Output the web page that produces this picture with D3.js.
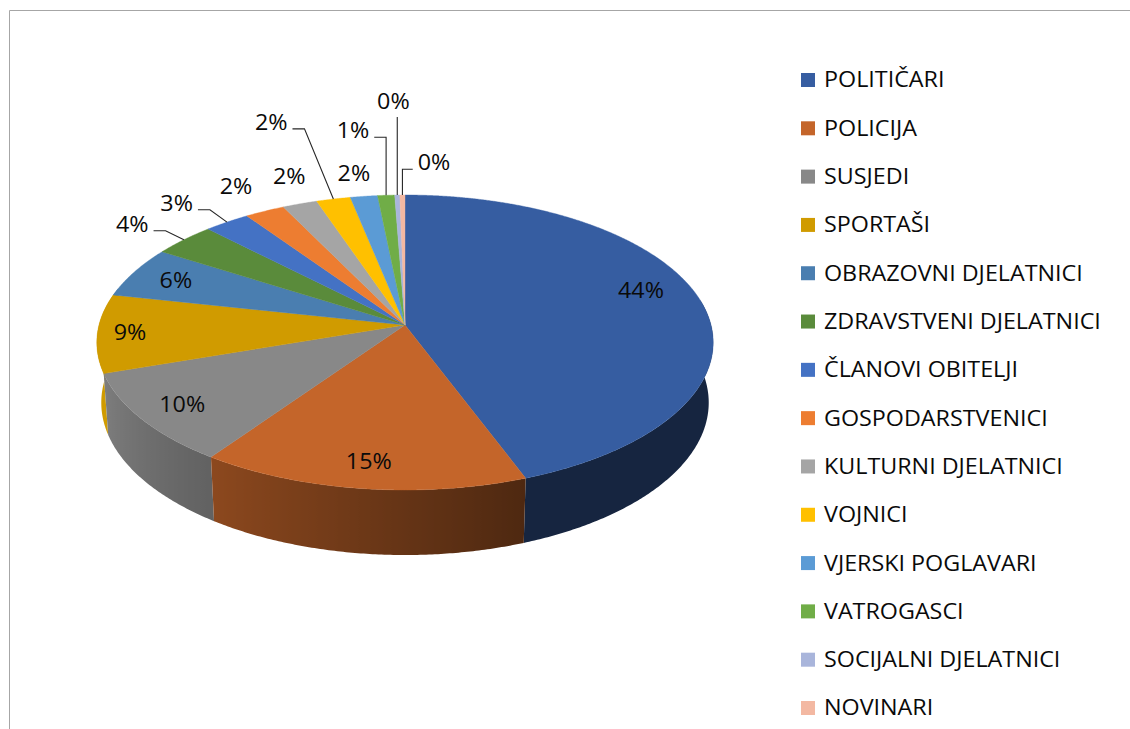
<!DOCTYPE html>
<html><head><meta charset="utf-8">
<script src="https://cdn.jsdelivr.net/npm/d3@7"></script>
<style>html,body{margin:0;padding:0;background:#fff;} svg{display:block;}</style>
</head><body>
<svg id="chart" width="1130" height="729"></svg>
<script>
// ---------- data ----------
const categories = ["POLITIČARI","POLICIJA","SUSJEDI","SPORTAŠI","OBRAZOVNI DJELATNICI","ZDRAVSTVENI DJELATNICI","ČLANOVI OBITELJI","GOSPODARSTVENICI","KULTURNI DJELATNICI","VOJNICI","VJERSKI POGLAVARI","VATROGASCI","SOCIJALNI DJELATNICI","NOVINARI"];
const values = [44.3,15.4,10.1,8.6,5.6,3.7,2.7,2.35,2.05,2.0,1.6,1.0,0.3,0.3];
const colors = ["#365DA1","#C4652A","#888888","#D09B00","#4A7EB0","#5A8B3B","#4472C4","#ED7D31","#A5A5A5","#FFC000","#5B9BD5","#70AD47","#A9B5DB","#F3B8A2"];

// ---------- layout (not data) ----------
const W = 1130, H = 729;
const P = {cx:405, cy:325, F:2270.5, D:7.42, sinT:0.4752, thick:0.2253};
P.cosT = Math.sqrt(1 - P.sinT*P.sinT);
const FONT = "'Open Sans', 'Noto Sans', sans-serif", FS = 21, STRETCH = 1.11;
// label placement: radius factor relative to rim, angular nudge (deg), leader line flag
const labelRadius = [0.83,0.85,0.855,0.895,0.84,1.23,1.245,1.245,1.24,1.75,1.2,1.6,1.88,1.29];
const labelNudge  = [-6.8,0,0,0,0,-1.2,-2.3,0.3,2.1,-2.3,-0.5,-3.3,0.2,5.4];
const labelLeader = [0,0,0,0,0,1,1,0,0,1,0,1,1,1];

const svg = d3.select("#chart");
const defs = svg.append("defs");

// chart area border
svg.append("path").attr("d", `M9.5,${H} L9.5,10.5 L${W},10.5`)
  .attr("fill","none").attr("stroke","#a6a6a6").attr("stroke-width",1);

function proj(theta, r, down){
  const u = r*Math.sin(theta), v = -r*Math.cos(theta);
  const yc = v*P.sinT + down*P.cosT;
  const z = P.D - v*P.cosT + down*P.sinT;
  return [P.cx + P.F*u/z, P.cy + P.F*yc/z];
}
const pie = d3.pie().sort(null).value(d => d)(values);
const deg = Math.PI/180;

function shade(hex, f){
  const c = d3.rgb(hex);
  return d3.rgb(c.r*f, c.g*f, c.b*f).formatHex();
}
function sideFactor(thDeg){
  let t = (thDeg - 160)/90; t = Math.max(0, Math.min(1.15, t));
  return 0.4 + 0.52*t;
}

// ---------- sides (one path per slice, horizontal gradient) ----------
const SIDE_MIN = 80*deg, SIDE_MAX = 285*deg;
const sides = [];
pie.forEach((a,i) => {
  const a0 = Math.max(a.startAngle, SIDE_MIN), a1 = Math.min(a.endAngle, SIDE_MAX);
  if (a1 <= a0) return;
  const n = Math.max(2, Math.ceil((a1-a0)/(0.5*deg)));
  const top = [], bot = [], stops = [];
  for (let k=0;k<=n;k++){
    const t = a0 + (a1-a0)*k/n;
    top.push(proj(t,1,0)); bot.push(proj(t,1,P.thick));
    stops.push({x: proj(t,1,0)[0], c: shade(colors[i], sideFactor(t/deg))});
  }
  const xs = stops.map(s => s.x);
  const xmin = d3.min(xs), xmax = d3.max(xs);
  const gid = "side" + i;
  const g = defs.append("linearGradient").attr("id", gid)
    .attr("gradientUnits","userSpaceOnUse")
    .attr("x1", xmin).attr("x2", xmax).attr("y1",0).attr("y2",0);
  stops.slice().sort((p,q) => p.x - q.x).forEach(s => {
    g.append("stop").attr("offset", xmax > xmin ? (s.x - xmin)/(xmax - xmin) : 0).attr("stop-color", s.c);
  });
  const pts = top.concat(bot.reverse());
  sides.push({d: "M" + pts.map(p => p.join(",")).join("L") + "Z", gid, z: -Math.cos((a0+a1)/2)});
});
sides.sort((a,b) => a.z - b.z);
svg.append("g").selectAll("path").data(sides).join("path")
  .attr("d", d => d.d).attr("fill", d => `url(#${d.gid})`);

// ---------- top ----------
function topPath(a){
  const n = Math.max(2, Math.ceil((a.endAngle-a.startAngle)/(0.25*deg)));
  const pts = [[P.cx,P.cy]];
  for (let k=0;k<=n;k++){
    pts.push(proj(a.startAngle + (a.endAngle-a.startAngle)*k/n, 1, 0));
  }
  return "M" + pts.map(p => p.join(",")).join("L") + "Z";
}
svg.append("g").selectAll("path").data(pie).join("path")
  .attr("d", topPath)
  .attr("fill", (d,i) => colors[i]).attr("stroke", (d,i) => colors[i]).attr("stroke-width", 0.4);

// ---------- data labels ----------
const total = d3.sum(values);
const lg = svg.append("g");
pie.forEach((a,i) => {
  const mid = (a.startAngle + a.endAngle)/2;
  const [lx, ly] = proj(mid + labelNudge[i]*deg, labelRadius[i], 0);
  const txt = Math.round(values[i]/total*100) + "%";
  const t = lg.append("text")
    .attr("transform", `translate(${lx},${ly + 0.357*FS}) scale(${STRETCH},1)`)
    .attr("text-anchor","middle")
    .attr("font-family", FONT).attr("font-size", FS).attr("fill","#0a0a0a")
    .text(txt);
  if (labelLeader[i]){
    const w = t.node().getComputedTextLength()*STRETCH;
    const x0 = lx - w/2, x1 = lx + w/2;
    const rim = proj(mid, 1, 0);
    let pts;
    if (rim[0] >= x0 && rim[0] <= x1){
      pts = [[rim[0], ly + 0.357*FS + 8], rim];
    } else if (rim[0] > x1){
      const s = x1 + 5, e = Math.min(s + 12, rim[0]);
      pts = [[s, ly + 6.5], [e, ly + 6.5], rim];
    } else {
      const s = x0 - 5, e = Math.max(s - 12, rim[0]);
      pts = [[s, ly + 6.5], [e, ly + 6.5], rim];
    }
    lg.append("path").attr("d", "M" + pts.map(p => p.join(",")).join("L"))
      .attr("fill","none").attr("stroke","#262626").attr("stroke-width",1.1);
  }
});

// ---------- legend ----------
const legY = d3.scalePoint().domain(categories).range([80, 708]);
const leg = svg.append("g").selectAll("g").data(categories).join("g")
  .attr("transform", d => `translate(801,${legY(d)})`);
leg.append("rect").attr("x",0).attr("y",-7).attr("width",14).attr("height",14)
  .attr("fill", (d,i) => colors[i]);
leg.append("text")
  .attr("transform", `translate(23,${0.357*FS}) scale(${STRETCH},1)`)
  .attr("font-family", FONT).attr("font-size", FS).attr("fill","#0a0a0a")
  .text(d => d);
</script>
</body></html>
